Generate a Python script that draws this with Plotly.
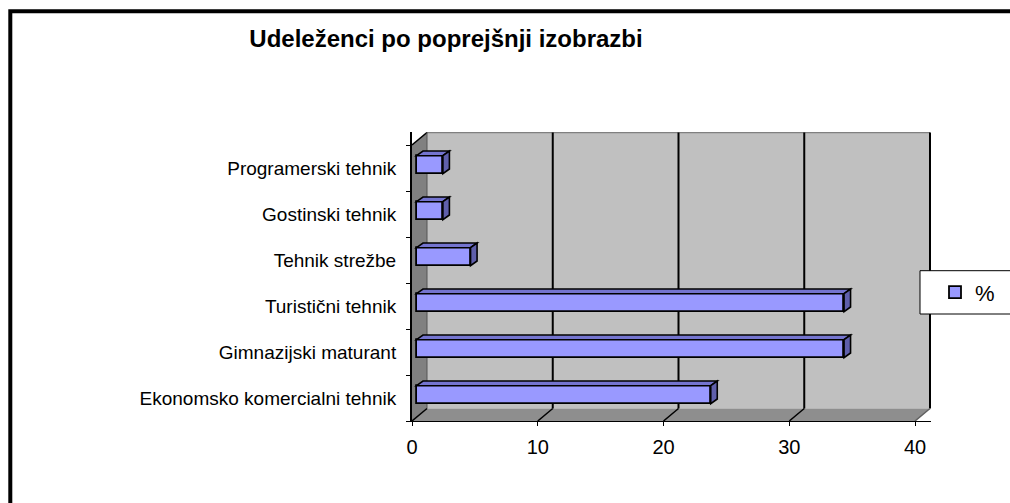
import plotly.graph_objects as go

# ---------------- data ----------------
categories = ["Ekonomsko komercialni tehnik", "Gimnazijski maturant", "Turistični tehnik",
              "Tehnik strežbe", "Gostinski tehnik", "Programerski tehnik"]
values = [23.4, 34.0, 34.0, 4.3, 2.1, 2.1]
x_ticks = [0, 10, 20, 30, 40]
series_name = "%"
title_text = "Udeleženci po poprejšnji izobrazbi"

# ---------------- layout geometry ----------------
W, H = 1010, 503
L, R, T, B = 412, 79, 132, 82
PW = W - L - R
PH = H - T - B
XMAX = x_ticks[-1]
PX_PER_X = 12.575
PX_PER_Y = 46.0
x_range = [0, PW / PX_PER_X]
y_range = [-0.5, -0.5 + PH / PX_PER_Y]
NC = len(categories)
YLO, YHI = -0.5, NC - 0.5


def ux(px):
    return px / PX_PER_X


def uy(px):
    return px / PX_PER_Y


def paper_x(px):
    return (px - L) / PW


def paper_y(py):
    return (H - B - py) / PH


DX, DY = ux(15), uy(12.5)           # wall depth
SHX, SHY = ux(4.5), uy(3.3)          # bar front-face shift
BDX, BDY = ux(6.5), uy(4.7)          # bar depth
BW = uy(18)                          # bar thickness

FRONT = "#9999FF"
TOP = "#7474CF"
SIDE = "#5F5FAB"

shapes = []
# walls
shapes.append(dict(type="rect", xref="x", yref="y", x0=DX, x1=XMAX + DX, y0=YLO + DY, y1=YHI + DY,
                   fillcolor="#C0C0C0", line=dict(width=0), layer="below"))
shapes.append(dict(type="path", xref="x", yref="y",
                   path=f"M0,{YLO} L0,{YHI} L{DX},{YHI + DY} L{DX},{YLO + DY} Z",
                   fillcolor="#808080", line=dict(width=0), layer="below"))
shapes.append(dict(type="path", xref="x", yref="y",
                   path=f"M0,{YLO} L{XMAX},{YLO} L{XMAX + DX},{YLO + DY} L{DX},{YLO + DY} Z",
                   fillcolor="#8E8E8E", line=dict(width=0), layer="below"))
# wall edges
shapes.append(dict(type="line", xref="x", yref="y", x0=DX, x1=XMAX + DX, y0=YHI + DY, y1=YHI + DY,
                   line=dict(color="#808080", width=1.5), layer="below"))
shapes.append(dict(type="line", xref="x", yref="y", x0=0, x1=DX, y0=YHI, y1=YHI + DY,
                   line=dict(color="black", width=1.5), layer="below"))
shapes.append(dict(type="line", xref="x", yref="y", x0=DX, x1=DX, y0=YLO + DY, y1=YHI + DY,
                   line=dict(color="#555555", width=1), layer="below"))
# gridlines on back wall + floor diagonals
for t in x_ticks:
    if t == 0:
        shapes.append(dict(type="line", xref="x", yref="y", x0=t, x1=t + DX, y0=YLO, y1=YLO + DY,
                           line=dict(color="black", width=1.5), layer="below"))
        continue
    shapes.append(dict(type="line", xref="x", yref="y", x0=t + DX, x1=t + DX, y0=YLO + DY, y1=YHI + DY,
                       line=dict(color="black", width=2), layer="below"))
    shapes.append(dict(type="line", xref="x", yref="y", x0=t, x1=t + DX, y0=YLO, y1=YLO + DY,
                       line=dict(color="black" if t != XMAX else "#606060", width=1.5), layer="below"))

# bar top and side faces
for i, v in enumerate(values):
    yb = i - BW / 2 + SHY
    yt = yb + BW
    x0 = SHX
    x1 = SHX + v
    shapes.append(dict(type="path", xref="x", yref="y",
                       path=f"M{x0},{yt} L{x1},{yt} L{x1 + BDX},{yt + BDY} L{x0 + BDX},{yt + BDY} Z",
                       fillcolor=TOP, line=dict(color="black", width=1.6), layer="above"))
    shapes.append(dict(type="path", xref="x", yref="y",
                       path=f"M{x1},{yb} L{x1},{yt} L{x1 + BDX},{yt + BDY} L{x1 + BDX},{yb + BDY} Z",
                       fillcolor=SIDE, line=dict(color="black", width=1.6), layer="above"))

# legend box
shapes.append(dict(type="rect", xref="paper", yref="paper",
                   x0=paper_x(920), x1=paper_x(1040), y0=paper_y(314), y1=paper_y(270.7),
                   fillcolor="white", line=dict(color="black", width=1), layer="above"))
# chart frame
shapes.append(dict(type="rect", xref="paper", yref="paper",
                   x0=paper_x(10.3), x1=paper_x(1060), y0=paper_y(560), y1=paper_y(11.3),
                   fillcolor="rgba(0,0,0,0)", line=dict(color="black", width=4), layer="above"))

fig = go.Figure()
fig.add_trace(go.Bar(
    orientation="h",
    y=list(range(NC)),
    x=values,
    base=SHX,
    width=BW,
    offset=-BW / 2 + SHY,
    name=series_name,
    marker=dict(color=FRONT, line=dict(color="black", width=1.8)),
    showlegend=True,
))

FONT = "Liberation Sans, Arial, sans-serif"
fig.update_layout(
    width=W, height=H,
    margin=dict(l=L, r=R, t=T, b=B, pad=0, autoexpand=False),
    paper_bgcolor="white",
    plot_bgcolor="white",
    font=dict(family=FONT, color="black"),
    title=dict(text=f"<b>{title_text}</b>", font=dict(family=FONT, size=24, color="black"),
               xref="container", yref="container", x=446 / W, xanchor="center",
               y=1 - 38.5 / H, yanchor="middle"),
    xaxis=dict(range=x_range, tickvals=x_ticks, ticktext=[str(t) for t in x_ticks],
               ticks="outside", ticklen=4, tickcolor="black", tickwidth=1,
               showline=True, linecolor="black", linewidth=1,
               showgrid=False, zeroline=False, tickfont=dict(size=20, family=FONT),
               ticklabelstandoff=4, fixedrange=True),
    yaxis=dict(range=y_range, tickvals=list(range(NC)), ticktext=categories,
               ticks="", showline=True, linecolor="black", linewidth=2,
               showgrid=False, zeroline=False, tickfont=dict(size=19, family=FONT),
               ticklabelstandoff=10,
               minor=dict(tickvals=[YLO + k for k in range(NC + 1)], ticks="outside", ticklen=4,
                          tickcolor="black", tickwidth=1, showgrid=False),
               fixedrange=True),
    showlegend=True,
    legend=dict(x=paper_x(935), xanchor="left", y=paper_y(292.3), yanchor="middle",
                bgcolor="rgba(0,0,0,0)", borderwidth=0, font=dict(size=22, family=FONT)),
    shapes=shapes,
    bargap=0,
)

fig.write_html(
    "out.html",
    config={"displayModeBar": False},
    post_script="document.body.style.margin='0';document.body.style.overflow='hidden';",
)
